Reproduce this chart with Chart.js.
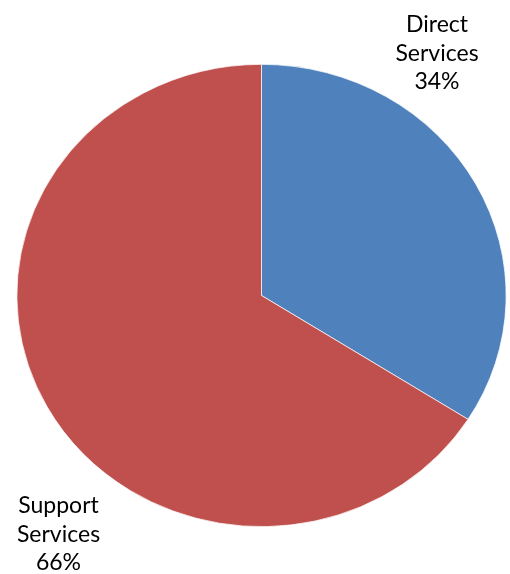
<!DOCTYPE html>
<html>
<head>
<meta charset="utf-8">
<script src="https://cdn.jsdelivr.net/npm/chart.js@4/dist/chart.umd.min.js"></script>
<style>
  html, body { margin: 0; padding: 0; background: #fff; }
  #wrap { width: 510px; height: 574px; }
</style>
</head>
<body>
<div id="wrap"><canvas id="pieChart" width="510" height="574"></canvas></div>
<script>
// Chart data
const categories = ['Direct Services', 'Support Services'];
const shares = [34, 66];
const sliceColors = ['#4F81BD', '#C0504D'];
// label lines per slice (category split over two lines, then percent)
const labelLines = [['Direct', 'Services'], ['Support', 'Services']];
// label anchor offsets from pie centre (first baseline)
const labelOffsets = [[175.5, -263.5], [-203, 217.5]];

// squash the pie vertically so it comes out as an ellipse
const ellipsePlugin = {
  id: 'ellipse',
  beforeDatasetsDraw(chart) {
    const ctx = chart.ctx;
    const arc = chart.getDatasetMeta(0).data[0];
    ctx.save();
    ctx.translate(arc.x, arc.y);
    ctx.scale(1, 231.5 / 245);
    ctx.translate(-arc.x, -arc.y);
  },
  afterDatasetsDraw(chart) {
    chart.ctx.restore();
  }
};

// outside labels like the original
const labelPlugin = {
  id: 'pieLabels',
  afterDraw(chart) {
    const ctx = chart.ctx;
    const arc = chart.getDatasetMeta(0).data[0];
    ctx.save();
    ctx.font = '23px Lato';
    ctx.fillStyle = '#000';
    ctx.textAlign = 'center';
    ctx.textBaseline = 'alphabetic';
    shares.forEach((v, i) => {
      const lines = labelLines[i].concat([v + '%']);
      const x = arc.x + labelOffsets[i][0];
      const y = arc.y + labelOffsets[i][1];
      lines.forEach((t, j) => ctx.fillText(t, x, y + j * 28.5));
    });
    ctx.restore();
  }
};

new Chart(document.getElementById('pieChart'), {
  type: 'pie',
  data: {
    labels: categories,
    datasets: [{
      data: shares,
      backgroundColor: sliceColors,
      borderColor: '#ffffff',
      borderWidth: 0.75
    }]
  },
  options: {
    responsive: false,
    animation: false,
    layout: {
      padding: { left: 16.5, right: 3.5, top: 50.5, bottom: 33.5 }
    },
    plugins: {
      legend: { display: false },
      tooltip: { enabled: false }
    }
  },
  plugins: [ellipsePlugin, labelPlugin]
});
</script>
</body>
</html>
